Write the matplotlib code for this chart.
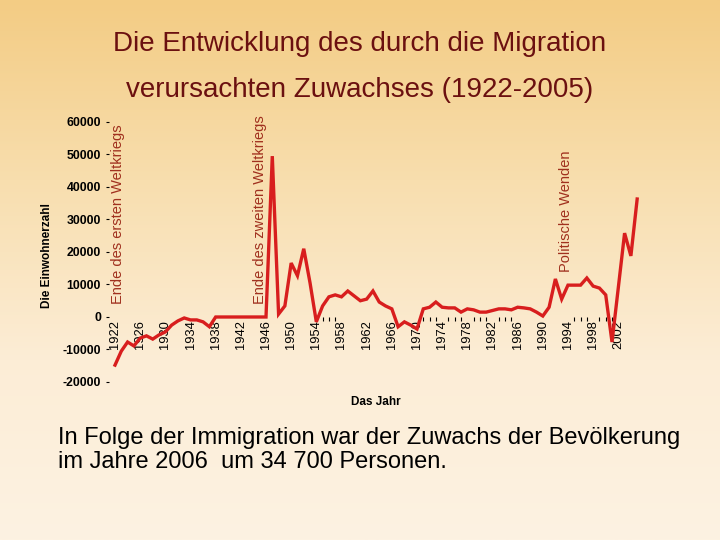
import matplotlib
matplotlib.use("Agg")
import matplotlib.pyplot as plt
import numpy as np
from matplotlib.colors import LinearSegmentedColormap

years = list(range(1922, 2006))
values = [
    -14800, -10500, -7700, -8900, -6500, -5800, -6800, -5500, -4600, -2500,   # 1922-1931
    -1200, -300, -900, -900, -1500, -3000, 0, 0, 0, 0,                      # 1932-1941
    0, 0, 0, 0, 0, 49500, 900, 3400, 16600, 12700,                          # 1942-1951
    21000, 10500, -1500, 3400, 6200, 6800, 6200, 8000, 6500, 5000,          # 1952-1961
    5500, 8000, 4600, 3400, 2500, -3000, -1500, -2500, -3700, 2500,         # 1962-1971
    3000, 4600, 3000, 2800, 2800, 1500, 2500, 2200, 1500, 1500,             # 1972-1981
    2000, 2500, 2500, 2200, 3000, 2800, 2500, 1500, 300, 3000,              # 1982-1991
    11700, 5500, 9800, 9800, 9800, 12000, 9500, 8900, 6800, -7700,          # 1992-2001
    9000, 25800, 18800, 36300,                                              # 2002-2005
]
major_years = list(range(1922, 2003, 4))
minor_years = [1955, 1956, 1957, 1971, 1972, 1973, 1975, 1976, 1977, 1979,
               1980, 1981, 1983, 1984, 1985, 1995, 1996, 1997, 1999, 2000, 2001]
y_ticks = [-20000, -10000, 0, 10000, 20000, 30000, 40000, 50000, 60000]

title_lines = ["Die Entwicklung des durch die Migration",
               "verursachten Zuwachses (1922-2005)"]
annotations = [("Ende des ersten Weltkriegs", 1922.5, 4000),
               ("Ende des zweiten Weltkriegs", 1945.1, 4000),
               ("Politische Wenden", 1993.7, 13800)]
footer = "In Folge der Immigration war der Zuwachs der Bevölkerung\nim Jahre 2006  um 34 700 Personen."

plt.rcParams['font.family'] = ['Liberation Sans', 'DejaVu Sans']

fig = plt.figure(figsize=(7.2, 5.4), dpi=100)

# background gradient
bg = fig.add_axes([0, 0, 1, 1])
cmap = LinearSegmentedColormap.from_list("bg", ["#F3CC84", "#F8DEAE", "#FCEDD6", "#FDF2E2"])
grad = np.linspace(0, 1, 256).reshape(-1, 1)
bg.imshow(grad, aspect='auto', cmap=cmap, extent=[0, 1, 0, 1], origin='upper')
bg.axis('off')

ax = fig.add_axes([0.151, 0.2926, 0.7427, 0.4815])
ax.patch.set_alpha(0)
ax.plot(years, values, color='#D81E1E', lw=2.4, solid_joinstyle='miter')
ax.set_xlim(1921, 2006)
ax.set_ylim(-20000, 60000)

for s in ['top', 'right', 'left']:
    ax.spines[s].set_visible(False)
ax.spines['bottom'].set_position(('data', 0))
ax.spines['bottom'].set_visible(False)

ax.set_xticks(major_years)
ax.set_xticklabels([str(y) for y in major_years], rotation=90, fontsize=9.3,
                   va='top', ha='center')
ax.set_xticks(minor_years, minor=True)
ax.tick_params(axis='x', which='major', length=0, pad=2)
ax.tick_params(axis='x', which='minor', length=3, width=0.8, color='black', direction='out')

ax.set_yticks(y_ticks)
ax.set_yticklabels([str(v) for v in y_ticks], fontsize=8.8, fontweight='bold')
ax.tick_params(axis='y', length=2, width=0.8, pad=3.5)

for txt, x, y in annotations:
    ax.text(x, y, txt, rotation=90, ha='center', va='bottom', fontsize=10.5,
            color='#A0301E')

fig.text(0.5, 0.9185, title_lines[0], ha='center', va='center', fontsize=20, color='#6B1010')
fig.text(0.5, 0.8333, title_lines[1], ha='center', va='center', fontsize=20, color='#6B1010')

fig.text(0.065, 0.527, "Die Einwohnerzahl", rotation=90, ha='center', va='center',
         fontsize=8.5, fontweight='bold')
fig.text(0.522, 0.255, "Das Jahr", ha='center', va='center', fontsize=8.5, fontweight='bold')

fig.text(0.08, 0.167, footer, ha='left', va='center', fontsize=17, linespacing=1.08,
         family=['Liberation Sans Narrow', 'Liberation Sans', 'DejaVu Sans'])

fig.savefig("out.png", dpi=100)
